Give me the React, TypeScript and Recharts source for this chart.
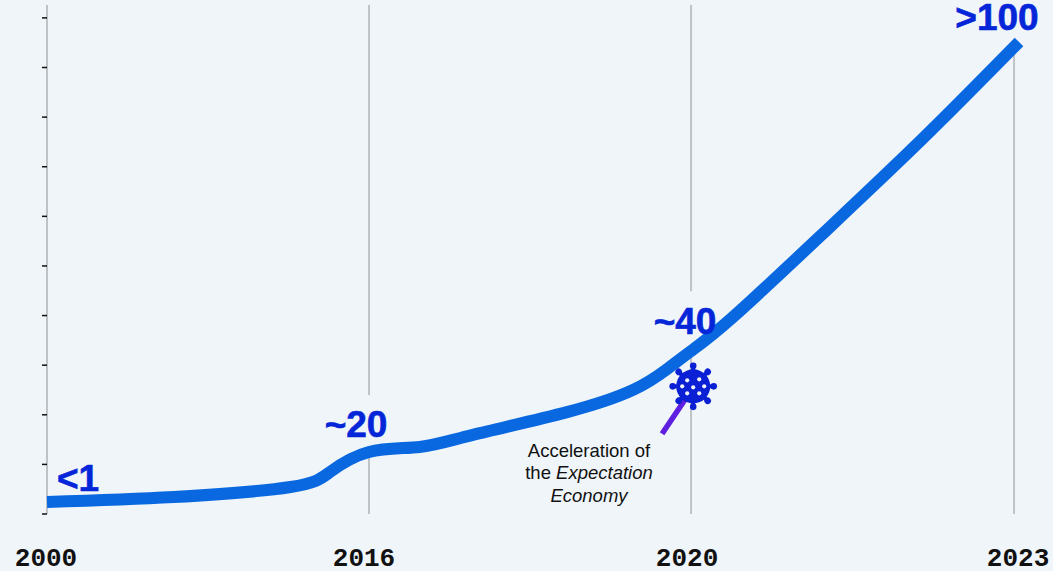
import { ComposedChart, Line, LabelList, XAxis, YAxis, ReferenceLine, ReferenceDot } from 'recharts';

const years = [2000, 2006.3, 2012.1, 2014.06, 2016, 2016.63, 2017.29, 2018.46, 2019.28, 2019.7, 2020, 2020.39, 2021.23, 2022.15, 2023.05];
const adoption = [1, 2.9, 6.7, 12.4, 20, 21, 23.4, 27.9, 32.3, 36.4, 40, 46.6, 62.9, 81.2, 100];
const tickYears = [2000, 2016, 2020, 2023];
const unlabelledTicks = [0, 10, 20, 30, 40, 50, 60, 70, 80, 90, 100];

// value label per year: prefix and nudge away from the curve
const callouts: Record<number, { prefix: string; dx: number; dy: number }> = {
  2000: { prefix: '<', dx: 31, dy: -11 },
  2016: { prefix: '~', dx: -13, dy: -15 },
  2020: { prefix: '~', dx: -6, dy: -17 },
  2023.05: { prefix: '>', dx: -22, dy: -12 },
};

// vertical rules, broken where a label sits on them
const ruleSegments = [
  { year: 2000, from: 0, to: 107.6 },
  { year: 2016, from: 0, to: 20 },
  { year: 2016, from: 31.3, to: 107.6 },
  { year: 2020, from: 0, to: 40 },
  { year: 2020, from: 51.6, to: 107.6 },
  { year: 2023, from: 0, to: 98 },
];

const covidPointer = { fromYear: 2019.64, fromValue: 23.6, toYear: 2019.98, toValue: 31.7 };
const covidMark = { year: 2020.02, value: 33 };

const tickNudge: Record<number, number> = { 2000: -1, 2016: -5, 2020: -4, 2023: 4 };

const data = years.map((year, i) => ({ year, adoption: adoption[i] }));

const BG = '#eff5f9';
const LINE = '#0968e0';
const INK = '#0526d8';
const RULE = '#bfc3c5';

// axes here are not evenly spaced, so map knots to fractions of the range
function piecewiseScale(knots: number[], stops: number[]) {
  let dom = [knots[0], knots[knots.length - 1]];
  let rng = [0, 1];
  const scale: any = (v: number) => {
    let i = 0;
    while (i < knots.length - 2 && v > knots[i + 1]) i++;
    const t = (v - knots[i]) / (knots[i + 1] - knots[i]);
    const f = stops[i] + t * (stops[i + 1] - stops[i]);
    return rng[0] + (rng[1] - rng[0]) * f;
  };
  scale.domain = (d?: number[]) => {
    if (!d) return dom;
    dom = d;
    return scale;
  };
  scale.range = (r?: number[]) => {
    if (!r) return rng;
    rng = r;
    return scale;
  };
  scale.copy = () => piecewiseScale(knots, stops).domain(dom).range(rng);
  return scale;
}

const yearScale = piecewiseScale([2000, 2016, 2020, 2023, 2023.05], [0, 0.3313, 0.6626, 0.9949, 1]);
const valueScale = piecewiseScale([0, 1, 20, 40, 100, 107.6], [0, 0.0236, 0.1218, 0.3202, 0.9273, 1]);

function YearTick({ x, y, payload }: any) {
  return (
    <text
      x={x + tickNudge[payload.value]}
      y={y + 44}
      textAnchor="middle"
      fontFamily="'Liberation Mono', monospace"
      fontWeight={700}
      fontSize={26}
      fill="#111"
    >
      {payload.value}
    </text>
  );
}

function ValueCallout({ x, y, index, value }: any) {
  const callout = callouts[years[index]];
  if (!callout) return null;
  return (
    <text
      x={x + callout.dx}
      y={y + callout.dy}
      textAnchor="middle"
      fontFamily="'Liberation Sans', Arial, sans-serif"
      fontWeight={700}
      fontSize={37}
      fill={INK}
      stroke={INK}
      strokeWidth={0.6}
    >
      {callout.prefix + value}
    </text>
  );
}

const spikes = [0, 45, 90, 135, 180, 225, 270, 315];
const holes = [
  [-6, -6],
  [6, -7],
  [0, 1],
  [6, 7],
  [-6, 7],
  [11, 0],
  [-11, 0],
];

function VirusIcon({ cx, cy }: any) {
  return (
    <g transform={`translate(${cx},${cy})`} fill="#0b1fd4">
      {spikes.map((deg) => (
        <g key={deg} transform={`rotate(${deg})`}>
          <rect x={-2} y={-20} width={4} height={8} />
          <circle cx={0} cy={-20.5} r={3.3} />
        </g>
      ))}
      <circle r={17} />
      {holes.map(([hx, hy]) => (
        <circle key={`${hx}-${hy}`} cx={hx} cy={hy} r={2.1} fill={BG} />
      ))}
    </g>
  );
}

export default function App() {
  return (
    <div style={{ position: 'absolute', left: 0, top: 0, width: 1053, height: 571, background: BG, overflow: 'hidden' }}>
      <ComposedChart width={1053} height={571} data={data} margin={{ top: 5, right: 34, bottom: 0, left: 0 }}>
        <XAxis
          dataKey="year"
          type="number"
          scale={yearScale}
          domain={[2000, 2023.05]}
          ticks={tickYears}
          axisLine={false}
          tickLine={false}
          tick={<YearTick />}
          height={57}
          interval={0}
        />
        <YAxis
          yAxisId="ticks"
          type="number"
          domain={[0, 102.6]}
          allowDataOverflow
          ticks={unlabelledTicks}
          tickFormatter={() => ''}
          tickSize={5}
          tickLine={{ stroke: '#111', strokeWidth: 1.5 }}
          axisLine={false}
          width={47}
        />
        <YAxis yAxisId="value" type="number" scale={valueScale} domain={[0, 107.6]} hide />

        {ruleSegments.map((s) => (
          <ReferenceLine
            key={`${s.year}-${s.from}`}
            yAxisId="value"
            segment={[
              { x: s.year, y: s.from },
              { x: s.year, y: s.to },
            ]}
            stroke={RULE}
            strokeWidth={2}
          />
        ))}

        <Line
          yAxisId="value"
          dataKey="adoption"
          type="natural"
          stroke={LINE}
          strokeWidth={12}
          dot={false}
          isAnimationActive={false}
        >
          <LabelList dataKey="adoption" content={<ValueCallout />} />
        </Line>

        <ReferenceDot
          yAxisId="value"
          x={covidMark.year}
          y={covidMark.value}
          shape={<VirusIcon />}
        />
        <ReferenceLine
          yAxisId="value"
          segment={[
            { x: covidPointer.fromYear, y: covidPointer.fromValue },
            { x: covidPointer.toYear, y: covidPointer.toValue },
          ]}
          stroke="#5e1fe0"
          strokeWidth={5.5}
        />

        <text
          textAnchor="middle"
          fontFamily="'Liberation Sans', Arial, sans-serif"
          fontSize={18.5}
          fill="#111"
        >
          <tspan x={589} y={457}>Acceleration of</tspan>
          <tspan x={589} y={479}>
            the <tspan fontStyle="italic">Expectation</tspan>
          </tspan>
          <tspan x={589} y={502} fontStyle="italic">Economy</tspan>
        </text>
      </ComposedChart>
    </div>
  );
}
